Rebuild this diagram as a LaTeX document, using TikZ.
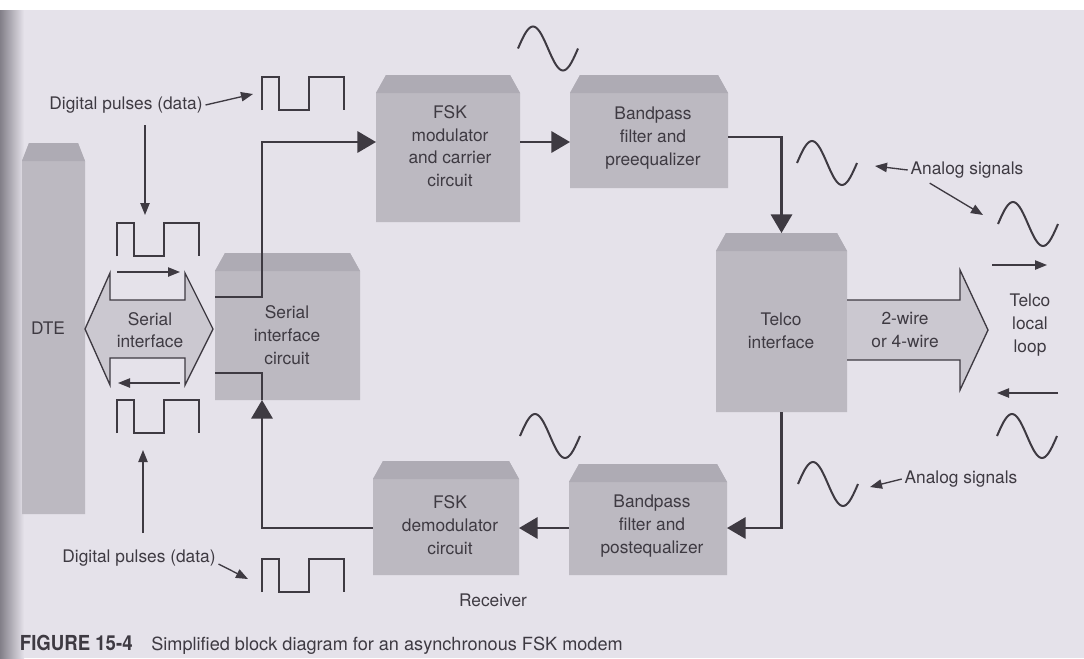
\documentclass[tikz,border=0pt]{standalone}
\usepackage{fontspec}
\setmainfont{TeX Gyre Heros}
\newfontfamily\figfont[FakeStretch=0.9]{TeX Gyre Heros}
\usetikzlibrary{arrows.meta,calc}
\definecolor{paper}{RGB}{229,226,234}
\definecolor{inkc}{RGB}{62,58,66}
\definecolor{blockc}{RGB}{188,185,193}
\definecolor{roofc}{RGB}{174,171,180}
\definecolor{arrowc}{RGB}{203,200,208}
\definecolor{spinec}{RGB}{130,127,136}
\pgfdeclarelayer{bg}\pgfdeclarelayer{blk}\pgfsetlayers{bg,blk,main}
\newcommand\chblock[2][10]{%
 \fill[blockc] ($(#2.north west)+(0,18)$) -- ($(#2.north west)+(#1,0)$) -- ($(#2.north east)+(-#1,0)$) -- ($(#2.north east)+(0,18)$) -- (#2.south east) -- (#2.south west) -- cycle;
 \fill[roofc] ($(#2.north west)+(0,18)$) -- ($(#2.north west)+(#1,0)$) -- ($(#2.north east)+(-#1,0)$) -- ($(#2.north east)+(0,18)$) -- cycle;}
\tikzset{
 blkbox/.style={inner sep=0pt, outer sep=0pt, draw=none},
 lbl/.style={align=center, text=inkc, font=\fontsize{13}{17}\selectfont, inner sep=2pt},
 conn/.style={draw=inkc, line width=1.8pt},
 bigarrow/.style={conn, -{Triangle[length=14pt,width=16pt]}},
 thinarrow/.style={draw=inkc, line width=1pt, -{Triangle[length=9pt,width=7pt]}},
 wave/.style={draw=inkc, line width=1.5pt},
 pulsest/.style={draw=inkc, line width=1.6pt},
 pulse/.pic={\draw[pulsest] (0,0) -- (0,-33) -- (17,-33) -- (17,0) -- (47,0) -- (47,-33) -- (82,-33) -- (82,0);},
 sine/.pic={\draw[wave] plot[domain=0:360, samples=37, smooth] ({\x/6}, {-22*sin(\x)});}
}
\begin{document}
\begin{tikzpicture}[x=0.75pt,y=-0.75pt]
\useasboundingbox (0,0) rectangle (1084,658);
\begin{pgfonlayer}{bg}
\fill[paper] (0,0) rectangle (1084,658);
\fill[white] (0,0) rectangle (1084,10);
\shade[left color=spinec, right color=paper] (0,10) rectangle (24,658);
\end{pgfonlayer}

% blocks
\node[blkbox, minimum width=63*0.75pt, minimum height=371*0.75pt] (dte) at (53.5,328.5) {};
\node[lbl] (dteT) at (48,328) {DTE};
\node[blkbox, minimum width=145*0.75pt, minimum height=147*0.75pt] (sic) at (287.5,326.5) {};
\node[lbl] (sicT) at (287,335) {Serial\\interface\\circuit};
\node[blkbox, minimum width=144*0.75pt, minimum height=147*0.75pt] (fskmod) at (448,148.5) {};
\node[lbl] (fskmodT) at (450,146) {FSK\\modulator\\and carrier\\circuit};
\node[blkbox, minimum width=158*0.75pt, minimum height=113*0.75pt] (bpfpre) at (649,131.5) {};
\node[lbl] (bpfpreT) at (653,138) {Bandpass\\filter and\\preequalizer};
\node[blkbox, minimum width=131*0.75pt, minimum height=179*0.75pt] (telco) at (781.5,322.5) {};
\node[lbl] (telcoT) at (781,331) {Telco\\interface};
\node[blkbox, minimum width=158*0.75pt, minimum height=111*0.75pt] (bpfpost) at (648,519.5) {};
\node[lbl] (bpfpostT) at (652,526) {Bandpass\\filter and\\postequalizer};
\node[blkbox, minimum width=146*0.75pt, minimum height=114*0.75pt] (fskdemod) at (446,518) {};
\node[lbl] (fskdemodT) at (450,525) {FSK\\demodulator\\circuit};

\begin{pgfonlayer}{blk}
\chblock[7]{dte}
\chblock{sic}
\chblock{fskmod}
\chblock{bpfpre}
\chblock{telco}
\chblock{bpfpost}
\chblock{fskdemod}
\end{pgfonlayer}

% serial interface double arrow
\draw[inkc, line width=1pt, fill=arrowc, line join=miter] (85,329) -- (110,273) -- (110,300) -- (185,300) -- (185,273) -- (213,329) -- (185,385) -- (185,358) -- (110,358) -- (110,385) -- cycle;
\node[lbl] (serialT) at (150,330) {Serial\\interface};

% 2-wire / 4-wire arrow
\fill[arrowc] (847,300) -- (960,300) -- (960,270) -- (988,330) -- (960,390) -- (960,360) -- (847,360) -- cycle;
\draw[inkc, line width=1pt, line join=miter] (847,300) -- (960,300) -- (960,270) -- (988,330) -- (960,390) -- (960,360) -- (847,360);
\node[lbl] (wireT) at (905,330) {2-wire\\or 4-wire};

% connectors
\coordinate (yA) at (0,142);
\coordinate (yB) at (0,137);
\coordinate (yC) at (0,528);
\coordinate (y1) at (0,297);
\coordinate (y2) at (0,373);
\coordinate (xV) at (262,0);
\draw[bigarrow] (sic.west |- y1) -| (xV |- yA) -- (fskmod.west |- yA);
\draw[bigarrow] (fskmod.east |- yA) -- (bpfpre.west |- yA);
\draw[bigarrow] (bpfpre.east |- yB) -| (telco.north);
\draw[bigarrow] (telco.south) |- (bpfpost.east |- yC);
\draw[bigarrow] (bpfpost.west |- yC) -- (fskdemod.east |- yC);
\draw[bigarrow] (fskdemod.west |- yC) -| (xV |- sic.south);
\draw[conn] (xV |- sic.south) |- (sic.west |- y2);

% pulses
\pic at (262,110) {pulse};
\pic at (117,256) {pulse};
\pic at (117,433) {pulse};
\pic at (262,592) {pulse};

% sine waves
\pic at (518,48.5) {sine};
\pic at (797,163) {sine};
\pic at (998,224) {sine};
\pic at (997,436) {sine};
\pic at (798,484) {sine};
\pic at (520,436) {sine};

% annotations
\node[lbl] (dp1) at (126,105) {Digital pulses (data)};
\coordinate (dp1tip) at (253,94);
\draw[thinarrow] (dp1.east) -- (dp1tip);
\coordinate (v1s) at (145,125);
\coordinate (v1e) at (145,215);
\draw[thinarrow] (v1s) -- (v1e);

\node[lbl] (dp2) at (139,558) {Digital pulses (data)};
\coordinate (dp2tip) at (248,579);
\draw[thinarrow] ($(dp2.east)+(0,6)$) -- (dp2tip);
\coordinate (v2s) at (143,533);
\coordinate (v2e) at (143,450);
\draw[thinarrow] (v2s) -- (v2e);

\node[lbl] (as1) at (967,170) {Analog signals};
\coordinate (as1a) at (875,166);
\coordinate (as1b) at (983,215);
\draw[thinarrow] (as1.west) -- (as1a);
\draw[thinarrow] ($(as1.south west)+(22,2)$) -- (as1b);

\node[lbl] (as2) at (961,479) {Analog signals};
\coordinate (as2a) at (870,487);
\draw[thinarrow] (as2.west) -- (as2a);

% direction arrows
\coordinate (d1s) at (117,272); \coordinate (d1e) at (180,272);
\coordinate (d2s) at (180,383); \coordinate (d2e) at (118,383);
\coordinate (d3s) at (992,265); \coordinate (d3e) at (1047,265);
\coordinate (d4s) at (1058,393); \coordinate (d4e) at (997,393);
\draw[thinarrow] (d1s) -- (d1e);
\draw[thinarrow] (d2s) -- (d2e);
\draw[thinarrow] (d3s) -- (d3e);
\draw[thinarrow] (d4s) -- (d4e);

\node[lbl] (loop) at (1030,325) {Telco\\local\\loop};
\node[lbl] (recv) at (493,600) {Receiver};

\node[lbl, anchor=west, font=\fontsize{13.6}{17}\selectfont] (cap) at (17,645) {{\figfont\bfseries\fontsize{15.5}{17}\selectfont FIGURE 15-4}\hspace{14pt}Simplified block diagram for an asynchronous FSK modem};
\end{tikzpicture}
\end{document}
